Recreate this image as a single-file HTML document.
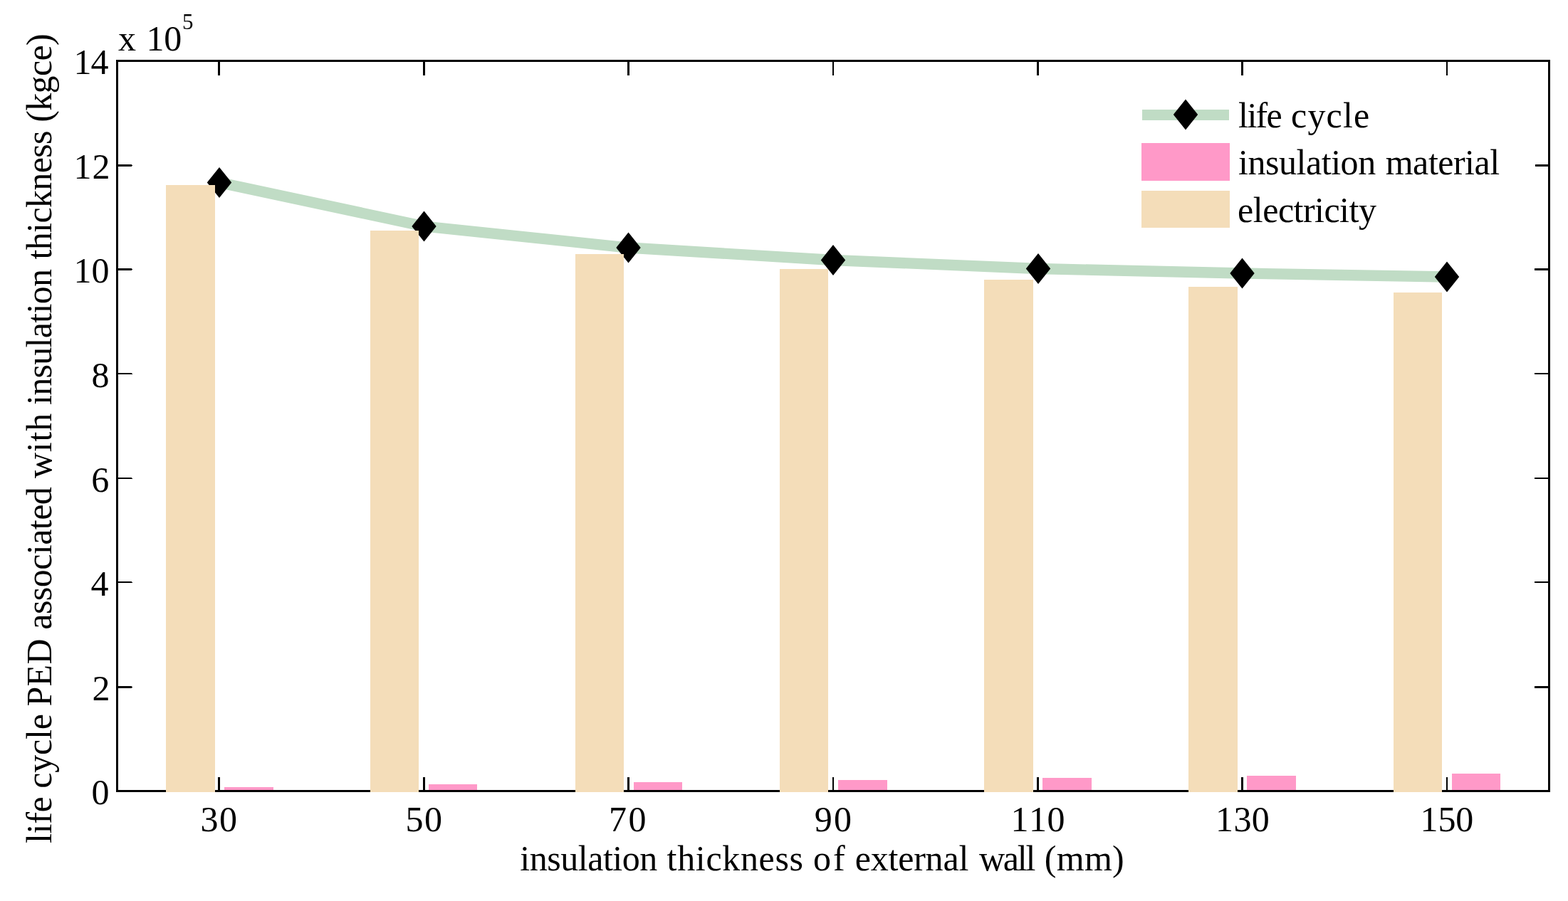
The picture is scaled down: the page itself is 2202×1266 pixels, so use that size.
<!DOCTYPE html>
<html lang="en"><head><meta charset="utf-8"><title>life cycle PED associated with insulation thickness</title>
<style>html,body{margin:0;padding:0;background:#fff;}body{width:2202px;height:1266px;overflow:hidden;}svg{display:block;}text{font-family:"Liberation Serif", "Times New Roman", serif;font-size:50px;fill:#000;white-space:pre;}</style>
</head><body>
<svg width="2202" height="1266" viewBox="0 0 2202 1266">
<rect x="0" y="0" width="2202" height="1266" fill="#fff"/>
<g>
<polyline fill="none" stroke="#c0dcc5" stroke-width="15.3" stroke-linejoin="miter" points="308.0,256.4 595.5,318.0 882.5,348.0 1170.0,365.5 1458.0,377.5 1744.5,384.0 2032.0,389.0"/>
<polygon points="290.8,256.4 308.0,234.9 325.2,256.4 308.0,277.9" fill="#000"/>
<polygon points="578.3,318.0 595.5,296.5 612.7,318.0 595.5,339.5" fill="#000"/>
<polygon points="865.3,348.0 882.5,326.5 899.7,348.0 882.5,369.5" fill="#000"/>
<polygon points="1152.8,365.5 1170.0,344.0 1187.2,365.5 1170.0,387.0" fill="#000"/>
<polygon points="1440.8,377.5 1458.0,356.0 1475.2,377.5 1458.0,399.0" fill="#000"/>
<polygon points="1727.3,384.0 1744.5,362.5 1761.7,384.0 1744.5,405.5" fill="#000"/>
<polygon points="2014.8,389.0 2032.0,367.5 2049.2,389.0 2032.0,410.5" fill="#000"/>
</g>
<g shape-rendering="crispEdges" fill="#ff99c8">
<rect x="315" y="1106" width="69" height="5"/>
<rect x="602" y="1102" width="68" height="9"/>
<rect x="890" y="1099" width="68" height="12"/>
<rect x="1177" y="1096" width="69" height="15"/>
<rect x="1464" y="1093" width="69" height="18"/>
<rect x="1751" y="1090" width="69" height="21"/>
<rect x="2039" y="1087" width="68" height="24"/>
</g>
<g shape-rendering="crispEdges" fill="#000">
<rect x="163" y="84" width="2014" height="3"/>
<rect x="163" y="1110" width="2014" height="3"/>
<rect x="163" y="84" width="3" height="1029"/>
<rect x="2174" y="84" width="3" height="1029"/>
<rect x="306" y="87" width="3" height="19"/>
<rect x="306" y="1092" width="3" height="18"/>
<rect x="594" y="87" width="3" height="19"/>
<rect x="594" y="1092" width="3" height="18"/>
<rect x="881" y="87" width="3" height="19"/>
<rect x="881" y="1092" width="3" height="18"/>
<rect x="1169" y="87" width="2" height="19"/>
<rect x="1169" y="1092" width="2" height="18"/>
<rect x="1456" y="87" width="3" height="19"/>
<rect x="1456" y="1092" width="3" height="18"/>
<rect x="1743" y="87" width="3" height="19"/>
<rect x="1743" y="1092" width="3" height="18"/>
<rect x="2031" y="87" width="2" height="19"/>
<rect x="2031" y="1092" width="2" height="18"/>
<rect x="166" y="964" width="19" height="3"/>
<rect x="185" y="965" width="1" height="1"/>
<rect x="2155" y="964" width="19" height="3"/>
<rect x="166" y="817" width="19" height="2"/>
<rect x="185" y="818" width="1" height="1"/>
<rect x="2155" y="817" width="19" height="2"/>
<rect x="166" y="671" width="19" height="2"/>
<rect x="185" y="672" width="1" height="1"/>
<rect x="2155" y="671" width="19" height="2"/>
<rect x="166" y="524" width="19" height="2"/>
<rect x="185" y="525" width="1" height="1"/>
<rect x="2155" y="524" width="19" height="2"/>
<rect x="166" y="377" width="19" height="3"/>
<rect x="185" y="378" width="1" height="1"/>
<rect x="2155" y="377" width="19" height="3"/>
<rect x="166" y="231" width="19" height="3"/>
<rect x="185" y="232" width="1" height="1"/>
<rect x="2156" y="231" width="18" height="3"/>
</g>
<g shape-rendering="crispEdges" fill="#f4ddb9">
<rect x="233" y="260" width="69" height="853"/>
<rect x="520" y="324" width="68" height="789"/>
<rect x="808" y="357" width="68" height="756"/>
<rect x="1095" y="378" width="68" height="735"/>
<rect x="1382" y="393" width="69" height="720"/>
<rect x="1669" y="403" width="69" height="710"/>
<rect x="1957" y="411" width="68" height="702"/>
</g>
<g>
<text x="128.6" y="1130.2">0</text>
<text x="129.5" y="983.6">2</text>
<text x="127.5" y="837.1">4</text>
<text x="128.2" y="690.5">6</text>
<text x="128.6" y="543.9">8</text>
<text x="103.6 128.5" y="397.3">10</text>
<text x="103.6 129.4" y="250.8">12</text>
<text x="103.6 127.4" y="104.2">14</text>
</g>
<g>
<text x="281.6 308.1" y="1167.8">30</text>
<text x="569.4 595.9" y="1167.8">50</text>
<text x="854.9 882.5" y="1167.8">70</text>
<text x="1143.8 1171.0" y="1167.8">90</text>
<text x="1419.6 1445.1 1470.5" y="1167.8">110</text>
<text x="1707.0 1732.4 1757.7" y="1167.8">130</text>
<text x="1994.6 2019.5 2044.3" y="1167.8">150</text>
</g>
<text x="165.9 190.9 205.5 230.2" y="70.5">x 10</text>
<text x="256.0" y="40.8" style="font-size:31px">5</text>
<text x="730.3 743.7 768.2 787.2 811.7 825.2 846.9 860.3 873.7 898.3 923.3 936.6 951.2 976.8 991.4 1014.2 1039.9 1065.6 1088.4 1108.5 1128.0 1141.9 1170.0 1186.7 1200.7 1222.7 1247.5 1261.2 1283.2 1299.6 1324.4 1346.4 1360.3 1375.0 1408.8 1428.8 1440.4 1454.3 1466.8 1483.8 1523.0 1562.1" y="1223.4">insulation thickness of external wall (mm)</text>
<text x="-1185.0 -1171.4 -1157.7 -1141.4 -1119.2 -1107.7 -1085.7 -1060.9 -1038.9 -1025.2 -1003.0 -992.6 -964.5 -933.6 -897.5 -884.8 -863.1 -844.2 -825.3 -800.8 -779.2 -765.8 -744.2 -730.8 -709.2 -684.2 -672.1 -635.2 -620.5 -605.7 -580.7 -569.0 -555.8 -531.5 -512.7 -488.4 -475.2 -453.7 -440.5 -427.3 -402.9 -377.9 -364.5 -351.2 -326.9 -313.6 -292.1 -267.7 -243.3 -221.8 -203.0 -183.5 -171.7 -155.7 -131.4 -107.0 -85.5 -64.0" y="72.4" transform="rotate(-90)">life cycle PED associated with insulation thickness (kgce)</text>
<g shape-rendering="crispEdges">
<rect x="1604" y="154" width="122" height="15" fill="#c0dcc5"/>
<rect x="1603" y="201" width="124" height="53" fill="#ff99c8"/>
<rect x="1603" y="268" width="124" height="52" fill="#f4ddb9"/>
</g>
<polygon points="1647.8,161.0 1665.0,139.5 1682.2,161.0 1665.0,182.5" fill="#000"/>
<text x="1739.1 1751.4 1763.6 1778.6 1800.8 1813.1 1836.5 1862.6 1886.0 1901.0" y="179.1">life cycle</text>
<text x="1739.1 1752.5 1777.0 1796.0 1820.6 1834.0 1855.7 1869.2 1882.6 1907.2 1932.2 1945.8 1984.1 2005.9 2019.3 2041.0 2057.1 2070.5 2092.2" y="245.2">insulation material</text>
<text x="1738.1 1759.8 1773.2 1794.9 1816.6 1829.9 1846.1 1859.5 1881.1 1894.5 1907.9" y="312.1">electricity</text>
</svg>
</body></html>
